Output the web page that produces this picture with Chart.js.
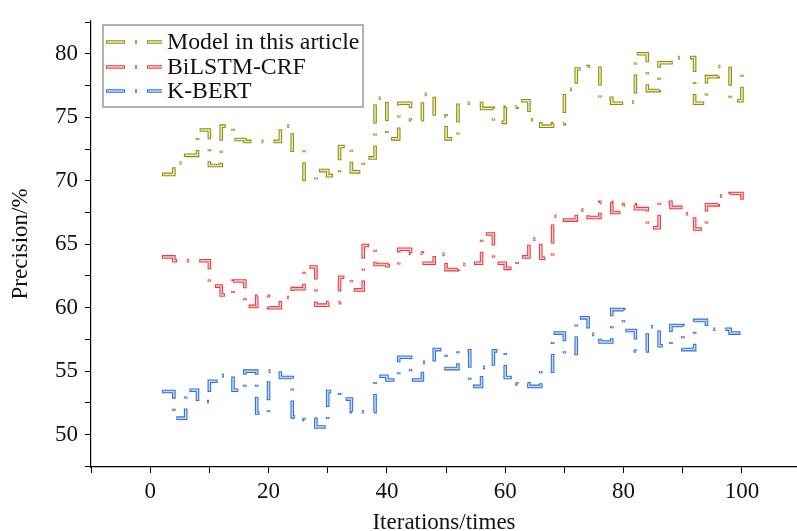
<!DOCTYPE html>
<html>
<head>
<meta charset="utf-8">
<title>Precision vs iterations</title>
<script src="https://cdn.jsdelivr.net/npm/chart.js@4.4.1/dist/chart.umd.min.js"></script>
<style>
  html, body { margin: 0; padding: 0; background: #fff; }
  #wrap { width: 797px; height: 531px; position: relative; }
</style>
</head>
<body>
<div id="wrap"><canvas id="precisionChart"></canvas></div>
<script>
// Iterations (sampled every 2 steps)
const iterations = [2, 4, 6, 8, 10, 12, 14, 16, 18, 20, 22, 24, 26, 28, 30, 32, 34, 36, 38, 40,
  42, 44, 46, 48, 50, 52, 54, 56, 58, 60, 62, 64, 66, 68, 70, 72, 74, 76, 78, 80,
  82, 84, 86, 88, 90, 92, 94, 96, 98, 100];

// Precision (%) per model
const modelPrecision = [70.5, 71.4, 72.0, 74.0, 71.2, 74.3, 73.25, 73.1, 73.1, 73.1,
  74.3, 72.4, 70.1, 70.8, 70.4, 72.7, 70.7, 71.8, 76.5, 73.3,
  76.1, 74.8, 76.8, 75.1, 73.3, 76.1, 76.1, 75.7, 74.6, 75.8,
  76.3, 74.8, 74.3, 74.5, 77.2, 78.8, 79.0, 76.5, 76.1, 76.2,
  80.0, 77.1, 79.3, 79.7, 79.7, 76.1, 78.2, 79.0, 76.3, 79.0];

const bilstmPrecision = [64.0, 63.7, 63.7, 63.7, 61.7, 61.0, 62.1, 60.1, 60.9, 60.0,
  60.8, 61.5, 63.2, 60.2, 60.4, 62.4, 61.4, 64.9, 63.4, 63.3,
  64.6, 64.3, 63.5, 64.2, 63.0, 63.4, 63.5, 65.8, 63.5, 63.1,
  64.0, 65.4, 63.9, 67.2, 66.9, 67.7, 67.1, 68.3, 67.5, 68.1,
  67.8, 66.3, 68.3, 67.9, 67.4, 66.2, 68.1, 68.8, 69.0, 67.9];

const kbertPrecision = [53.4, 51.3, 53.5, 52.6, 54.2, 54.65, 53.5, 55.0, 51.7, 55.0,
  54.5, 51.4, 51.2, 50.6, 53.4, 52.8, 51.8, 51.8, 54.6, 54.3,
  56.1, 54.3, 55.7, 56.7, 55.2, 56.6, 53.8, 55.3, 56.6, 54.5,
  54.0, 53.8, 55.0, 58.0, 56.4, 59.2, 57.9, 57.3, 59.85, 58.2,
  56.6, 58.5, 57.0, 58.6, 56.7, 59.0, 58.3, 58.3, 58.0, 58.0];

const seriesNames = ['Model in this article', 'BiLSTM-CRF', 'K-BERT'];
const xTickLabels = [0, 20, 40, 60, 80, 100];
const yTickLabels = [50, 55, 60, 65, 70, 75, 80];

// Hollow line look: dark edge + light core
const edgeColors = ['#8e8e0c', '#ee3b3b', '#2f6fdc'];
const coreColors = ['#ecebb8', '#ffcccc', '#c4d8f6'];

const FONT = "'Liberation Serif', 'DejaVu Serif', serif";
const EDGE_DASH = [19, 10, 2, 10];
const CORE_DASH = [17, 11.5, 1, 11.5];
const EDGE_W = 3.6;
const CORE_W = 1.5;

const seriesValues = [modelPrecision, bilstmPrecision, kbertPrecision];

const datasets = [];
seriesValues.forEach((values, i) => {
  const points = iterations.map((x, k) => ({ x: x, y: values[k] }));
  datasets.push({
    label: seriesNames[i],
    data: points,
    stepped: true,
    borderColor: edgeColors[i],
    borderWidth: EDGE_W,
    borderDash: EDGE_DASH,
    pointRadius: 0,
    fill: false,
    order: 1
  });
  datasets.push({
    label: seriesNames[i] + ' core',
    data: points,
    stepped: true,
    borderColor: coreColors[i],
    borderWidth: CORE_W,
    borderDash: CORE_DASH,
    borderDashOffset: -1,
    pointRadius: 0,
    fill: false,
    order: 0
  });
});

// Legend drawn inside the plot, top-left, with a framed box
const insideLegend = {
  id: 'insideLegend',
  afterDraw(chart) {
    const ctx = chart.ctx;
    ctx.save();
    ctx.strokeStyle = '#9a9a9a';
    ctx.lineWidth = 1.5;
    ctx.strokeRect(103, 25, 260, 82);

    const rows = [42, 67, 91];
    seriesNames.forEach((name, i) => {
      const y = rows[i];
      ctx.lineCap = 'butt';
      ctx.setLineDash(EDGE_DASH);
      ctx.lineDashOffset = 0;
      ctx.strokeStyle = edgeColors[i];
      ctx.lineWidth = EDGE_W;
      ctx.beginPath();
      ctx.moveTo(106, y);
      ctx.lineTo(162, y);
      ctx.stroke();

      ctx.setLineDash(CORE_DASH);
      ctx.lineDashOffset = -1;
      ctx.strokeStyle = coreColors[i];
      ctx.lineWidth = CORE_W;
      ctx.beginPath();
      ctx.moveTo(106, y);
      ctx.lineTo(162, y);
      ctx.stroke();

      ctx.setLineDash([]);
      ctx.fillStyle = '#111';
      ctx.font = '23.8px ' + FONT;
      ctx.textAlign = 'left';
      ctx.textBaseline = 'middle';
      ctx.fillText(name, 167, y + 1);
    });
    ctx.restore();
  }
};

const ctx = document.getElementById('precisionChart');

new Chart(ctx, {
  type: 'line',
  data: { datasets: datasets },
  options: {
    responsive: true,
    maintainAspectRatio: false,
    animation: false,
    layout: { padding: { top: 13, right: 0, bottom: 0, left: 0 } },
    plugins: {
      legend: { display: false },
      tooltip: { enabled: false }
    },
    scales: {
      x: {
        type: 'linear',
        min: -10,
        max: 109.3,
        afterFit(scale) { scale.height = 64; },
        ticks: {
          stepSize: 10,
          includeBounds: false,
          autoSkip: false,
          maxRotation: 0,
          padding: 5,
          color: '#111',
          font: { family: FONT, size: 23 },
          callback: (v) => (xTickLabels.includes(v) ? v : '')
        },
        grid: { drawOnChartArea: false, drawTicks: true, tickLength: 6, color: '#000', lineWidth: 1 },
        border: { display: true, color: '#000', width: 1.2 },
        title: {
          display: true,
          text: 'Iterations/times',
          color: '#111',
          font: { family: FONT, size: 23 },
          padding: { top: 0, bottom: -6 }
        }
      },
      y: {
        type: 'linear',
        min: 47.45,
        max: 82.6,
        afterFit(scale) { scale.width = 91; },
        ticks: {
          stepSize: 2.5,
          includeBounds: false,
          autoSkip: false,
          padding: 7,
          color: '#111',
          font: { family: FONT, size: 23 },
          callback: (v) => (yTickLabels.includes(v) ? v : '')
        },
        grid: { drawOnChartArea: false, drawTicks: true, tickLength: 6, color: '#000', lineWidth: 1 },
        border: { display: true, color: '#000', width: 1.2 },
        title: {
          display: true,
          text: 'Precision/%',
          color: '#111',
          font: { family: FONT, size: 23 },
          padding: { top: 7, bottom: 0 }
        }
      }
    }
  },
  plugins: [insideLegend]
});
</script>
</body>
</html>
